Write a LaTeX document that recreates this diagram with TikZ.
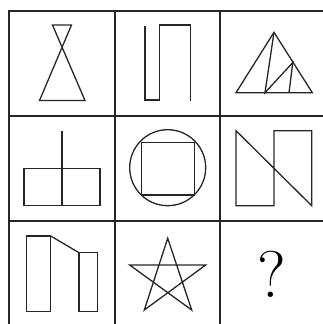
\documentclass[tikz,border=0pt]{standalone}
\begin{document}
\begin{tikzpicture}[x=1pt,y=-1pt,
  grid/.style={line width=2pt,black!85},
  fig/.style={line width=1.3pt,black!85,line join=miter}]
\useasboundingbox (0,0) rectangle (323,324);
% grid
\draw[grid] (9,324) -- (9,11) -- (323,11);
\draw[grid] (9,116) -- (323,116);
\draw[grid] (9,221) -- (323,221);
\draw[grid] (115,11) -- (115,324);
\draw[grid] (220,11) -- (220,324);
% cell 1: hourglass
\draw[fig] (52.5,25) -- (71.5,25) -- (39.5,100.5) -- (85,100.5) -- cycle;
% cell 2: meander
\draw[fig] (145,26) -- (145,100) -- (159.3,100) -- (159.3,25) -- (190.7,25) -- (190.7,100.5);
% cell 3: triangle
\draw[fig] (274,32.3) -- (312.3,92.7) -- (236,92.7) -- cycle;
\draw[fig] (274,32.3) -- (265,92.7) -- (292.8,62.5) -- (289,92.7);
% cell 4
\draw[fig] (24,168.3) rectangle (100,205.7);
\draw[fig] (62,130.7) -- (62,205.7);
% cell 5
\draw[fig] (167.7,167.7) circle (38);
\draw[fig] (141.5,142.3) rectangle (194.3,195);
% cell 6
\draw[fig] (311.7,205.7) -- (236,130.7) -- (236,205.7) -- (274,205.7) -- (274,130.7) -- (311.7,130.7) -- cycle;
% cell 7
\draw[fig] (26.7,236) rectangle (50.7,311.7);
\draw[fig] (79,252.7) rectangle (97.7,311.7);
\draw[fig] (50.7,236) -- (79,252.7);
% cell 8: star
\draw[fig] (167.7,238.3) -- (191.7,310) -- (129.7,265) -- (205.7,265) -- (144.3,310) -- cycle;
% cell 9
\node[font=\fontsize{66}{66}\selectfont,inner sep=0pt] (q) at (271.5,274.5) {?};
\end{tikzpicture}
\end{document}
